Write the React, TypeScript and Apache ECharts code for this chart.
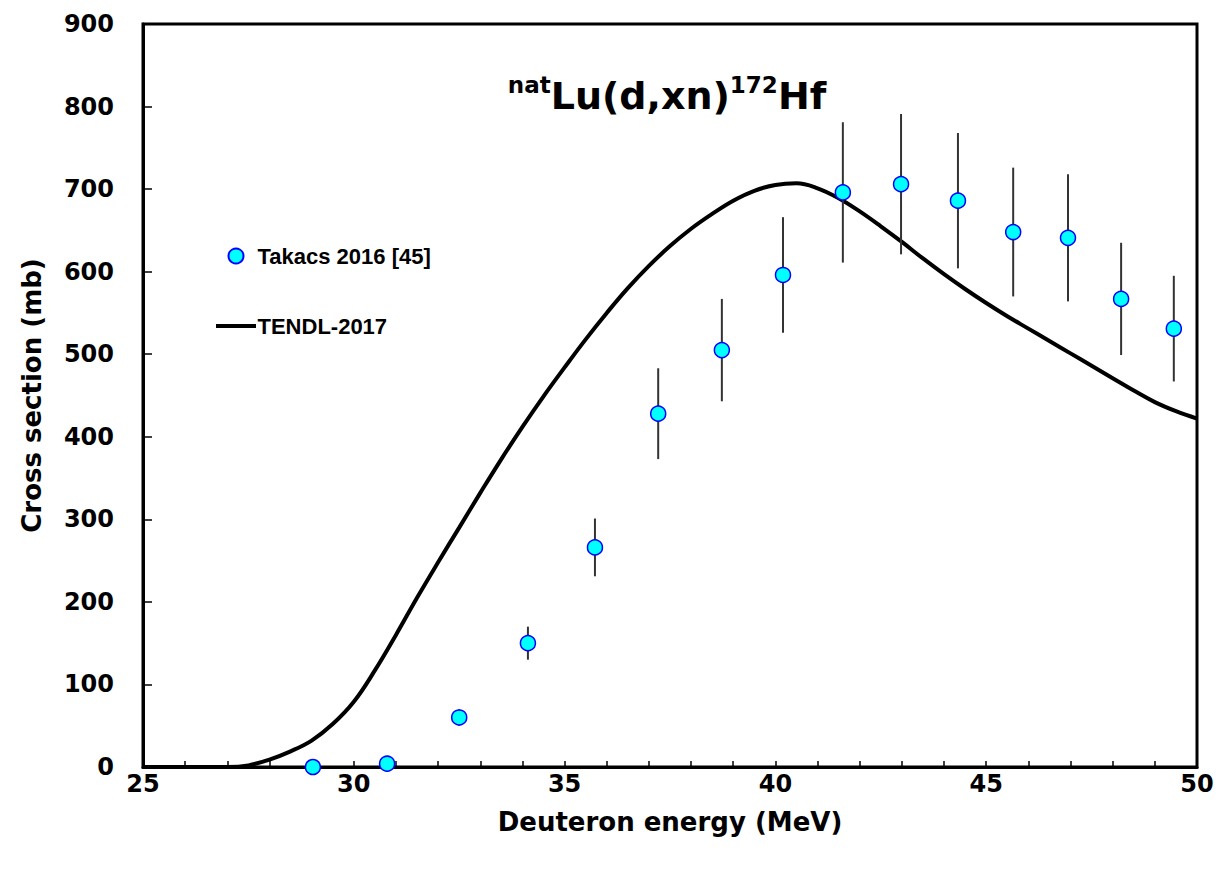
import React, { useEffect, useRef } from "react";
import * as echarts from "echarts";

// Experimental points: Takacs 2016 [45]
const expEnergy = [29.03, 30.79, 32.5, 34.13, 35.72, 37.22, 38.73, 40.18, 41.6, 42.98, 44.33, 45.64, 46.94, 48.2, 49.45];
const expSigma = [0, 4, 60, 150, 266, 428, 505, 596, 696, 706, 686, 648, 641, 567, 531];
const expErr = [0, 1, 10, 20, 35, 55, 62, 70, 85, 85, 82, 78, 77, 68, 64];

// TENDL-2017 curve
const tendlEnergy = [25, 26, 27, 27.5, 28, 28.5, 29, 29.5, 30, 30.5, 31, 31.5, 32, 32.5, 33, 33.5, 34, 34.5, 35, 35.5, 36, 36.5, 37, 37.5, 38, 38.5, 39, 39.5, 40, 40.5, 41, 41.5, 42, 42.5, 43, 43.5, 44, 44.5, 45, 45.5, 46, 46.5, 47, 47.5, 48, 48.5, 49, 49.5, 50];
const tendlSigma = [0, 0, 0, 2, 9, 19, 32, 52, 79, 117, 160, 205, 248, 290, 332, 373, 412, 449, 484, 518, 550, 580, 607, 631, 652, 670, 686, 698, 705, 707, 701, 689, 673, 655, 636, 616, 597, 579, 562, 546, 531, 516, 501, 486, 471, 456, 442, 431, 422];

const seriesNames = ["Takacs 2016 [45]", "TENDL-2017"];
const xTickLabels = { min: 25, max: 50, interval: 5 };
const yTickLabels = { min: 0, max: 900, interval: 100 };

const FONT = "DejaVu Sans";
const LFONT = "Liberation Sans";

export default function App() {
  const ref = useRef<HTMLDivElement>(null);
  useEffect(() => {
    if (!ref.current) return;
    const chart = echarts.init(ref.current, null, { renderer: "svg" });
    const scatterData = expEnergy.map((e, i) => [e, expSigma[i]]);
    const errData = expEnergy.map((e, i) => [e, expSigma[i] - expErr[i], expSigma[i] + expErr[i]]);
    const lineData = tendlEnergy.map((e, i) => [e, tendlSigma[i]]);
    chart.setOption({
      animation: false,
      backgroundColor: "#fff",
      title: {
        text: "{sup|nat}{main|Lu(d,xn)}{sup|172}{main|Hf}",
        left: 662,
        top: 68,
        textAlign: "center",
        textStyle: {
          rich: {
            main: { fontFamily: FONT, fontWeight: "bold", fontSize: 38, color: "#000", lineHeight: 46 },
            sup: { fontFamily: FONT, fontWeight: "bold", fontSize: 23, color: "#000", lineHeight: 32, verticalAlign: "top" },
          },
        },
      },
      legend: {
        data: [
          { name: seriesNames[0], icon: "circle" },
          {
            name: seriesNames[1],
            icon: "path://M0 0 H37 V1 H0 Z",
            itemStyle: { color: "#000", borderColor: "#000", borderWidth: 3 },
          },
        ],
        orient: "vertical",
        left: 216,
        top: 245,
        padding: 0,
        itemWidth: 37,
        itemHeight: 15,
        itemGap: 48,
        textStyle: { fontFamily: LFONT, fontWeight: "bold", fontSize: 22, color: "#000", padding: [0, 0, 0, -2] },
      },
      grid: {
        left: 143,
        right: 24,
        top: 24,
        bottom: 102,
        show: true,
        borderColor: "#000",
        borderWidth: 3,
        backgroundColor: "transparent",
      },
      xAxis: {
        type: "value",
        min: xTickLabels.min,
        max: xTickLabels.max,
        interval: xTickLabels.interval,
        name: "Deuteron energy (MeV)",
        nameLocation: "middle",
        nameGap: 42,
        nameTextStyle: { fontFamily: FONT, fontWeight: "bold", fontSize: 26, color: "#000" },
        axisLine: { show: true, onZero: false, lineStyle: { color: "#000", width: 3 } },
        axisTick: { show: true, inside: true, length: 6, lineStyle: { color: "#000", width: 1.5 } },
        minorTick: { show: true, splitNumber: 5, length: 6, lineStyle: { color: "#000", width: 1.5 } },
        axisLabel: { margin: 5, fontFamily: FONT, fontWeight: "bold", fontSize: 24, color: "#000" },
        splitLine: { show: false },
      },
      yAxis: {
        type: "value",
        min: yTickLabels.min,
        max: yTickLabels.max,
        interval: yTickLabels.interval,
        name: "Cross section (mb)",
        nameLocation: "middle",
        nameGap: 98,
        nameTextStyle: { fontFamily: FONT, fontWeight: "bold", fontSize: 26, color: "#000" },
        axisLine: { show: true, onZero: false, lineStyle: { color: "#000", width: 3 } },
        axisTick: { show: true, inside: true, length: 9, lineStyle: { color: "#000", width: 1.5 } },
        axisLabel: { margin: 29, fontFamily: FONT, fontWeight: "bold", fontSize: 24, color: "#000" },
        splitLine: { show: false },
      },
      series: [
        {
          name: seriesNames[1],
          type: "line",
          data: lineData,
          symbol: "none",
          smooth: 0.4,
          lineStyle: { color: "#000", width: 4 },
          itemStyle: { color: "#000" },
          z: 2,
        },
        {
          name: "errors",
          type: "custom",
          data: errData,
          renderItem: (params: any, api: any) => {
            const x = api.value(0);
            const p1 = api.coord([x, api.value(1)]);
            const p2 = api.coord([x, api.value(2)]);
            return {
              type: "line",
              shape: { x1: p1[0], y1: p1[1], x2: p2[0], y2: p2[1] },
              style: { stroke: "#333", lineWidth: 2 },
            };
          },
          z: 3,
        },
        {
          name: seriesNames[0],
          type: "scatter",
          data: scatterData,
          symbol: "circle",
          symbolSize: 15,
          itemStyle: { color: "#00FFFF", borderColor: "#0000FF", borderWidth: 1.5, opacity: 1 },
          z: 4,
        },
      ],
    });
    return () => chart.dispose();
  }, []);
  return (
    <div
      ref={ref}
      style={{ position: "fixed", left: 0, top: 0, width: 1221, height: 869, background: "#fff" }}
    />
  );
}
